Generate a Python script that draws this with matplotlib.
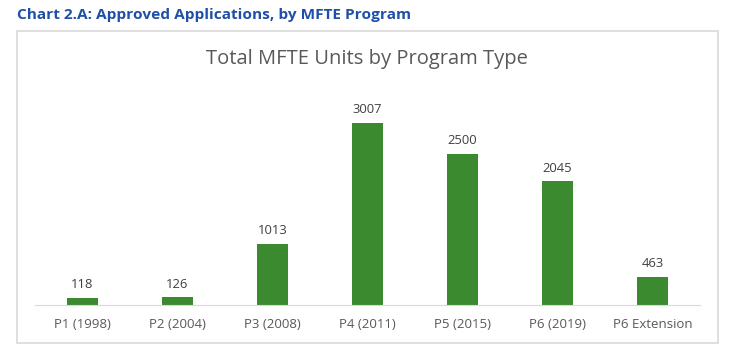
import matplotlib.pyplot as plt
from matplotlib.patches import Rectangle

programs = ['P1 (1998)', 'P2 (2004)', 'P3 (2008)', 'P4 (2011)', 'P5 (2015)', 'P6 (2019)', 'P6 Extension']
units = [118, 126, 1013, 3007, 2500, 2045, 463]

bar_color = '#3B8A2F'
text_color = '#404040'

plt.rcParams['font.family'] = ['Open Sans', 'DejaVu Sans']

fig = plt.figure(figsize=(7.34, 3.49), dpi=100)

# chart border
fig.patches.append(Rectangle((17 / 734, 1 - 343 / 349), 701 / 734, 312 / 349,
                             transform=fig.transFigure, fill=False,
                             edgecolor='#d9d9d9', linewidth=1.2))

fig.text(17 / 734, 1 - 15 / 349, 'Chart 2.A: Approved Applications, by MFTE Program',
         fontsize=11.1, fontweight='bold', color='#1F4FA8', va='center', ha='left')
fig.text(367 / 734, 1 - 59 / 349, 'Total MFTE Units by Program Type',
         fontsize=14.5, color='#595959', va='center', ha='center')

ax = fig.add_axes([35 / 734, 44 / 349, 665 / 734, 210 / 349])
x = range(len(programs))
bars = ax.bar(x, units, width=0.32, color=bar_color)
for xi, v in zip(x, units):
    ax.text(xi, v + 110, str(v), ha='center', va='bottom', fontsize=9.4, color=text_color)

ax.set_xlim(-0.5, len(programs) - 0.5)
ax.set_ylim(0, 3470)
ax.set_xticks(list(x))
ax.set_xticklabels(programs, fontsize=9.5, color='#595959')
ax.tick_params(axis='x', length=0, pad=9)
ax.set_yticks([])
for s in ['top', 'right', 'left']:
    ax.spines[s].set_visible(False)
ax.spines['bottom'].set_color('#d9d9d9')

fig.savefig('out.png', dpi=100)
